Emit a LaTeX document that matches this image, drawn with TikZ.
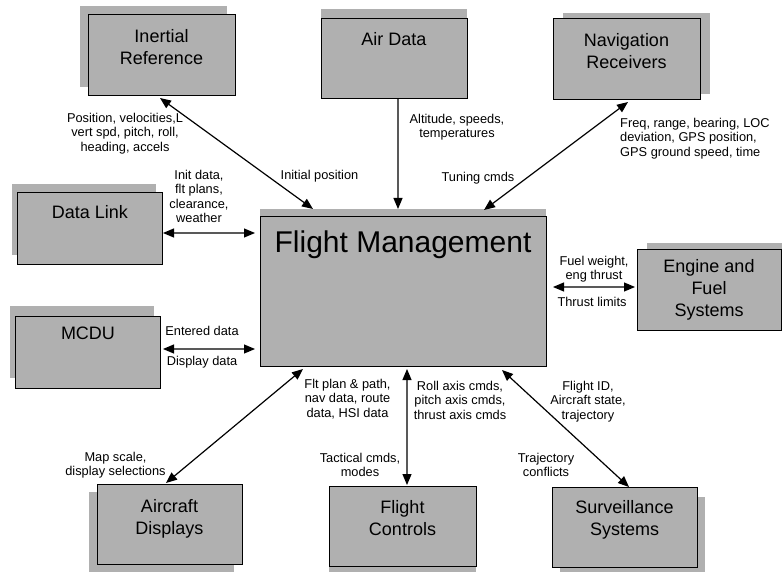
\documentclass[tikz,border=0pt]{standalone}
\usepackage{fontspec}
\setmainfont{Liberation Sans}
\usetikzlibrary{arrows.meta,shadows}
\definecolor{boxgray}{HTML}{B0B0B0}
\begin{document}
\begin{tikzpicture}[x=1bp,y=-1bp,
  box/.style={draw=black, line width=1bp, fill=boxgray, inner sep=0pt, outer sep=0pt},
  sh/.style 2 args={general shadow={shadow xshift=#1, shadow yshift=#2, fill=boxgray}},
  title/.style={font=\fontsize{18bp}{22bp}\selectfont, inner sep=0pt, align=center, anchor=north},
  lbl/.style={font=\fontsize{12.8bp}{14.6bp}\selectfont, inner sep=0pt, align=center},
  tip/.tip={Triangle[length=11bp,width=9bp]},
  conn/.style={line width=1.2bp, -tip},
  dbl/.style={line width=1.2bp, tip-tip}]
\useasboundingbox (0,0) rectangle (782,572);

% boxes
\node[box, minimum width=147bp, minimum height=81bp, sh={-8bp}{9bp}] (ir) at (161.5,55.5) {};
\node[box, minimum width=146bp, minimum height=80bp, sh={0bp}{10bp}] (ad) at (394,59) {};
\node[box, minimum width=147bp, minimum height=81bp, sh={10bp}{6bp}] (nr) at (626.5,59.5) {};
\node[box, minimum width=144bp, minimum height=71bp, sh={-6bp}{9bp}] (dl) at (90,228.5) {};
\node[box, minimum width=144bp, minimum height=72bp, sh={-6bp}{10bp}] (mc) at (88,352) {};
\node[box, minimum width=286bp, minimum height=149bp, sh={0bp}{8bp}] (fm) at (403,291.5) {};
\node[box, minimum width=144bp, minimum height=81bp, sh={10bp}{6bp}] (ef) at (709,289.5) {};
\node[box, minimum width=145bp, minimum height=80bp, sh={-8bp}{-8bp}] (acd) at (169.5,524) {};
\node[box, minimum width=147bp, minimum height=80bp, sh={0bp}{-8bp}] (fc) at (402.5,526) {};
\node[box, minimum width=145bp, minimum height=80bp, sh={8bp}{-10bp}] (ss) at (624.5,527) {};

% titles
\node[title] (irT) at ([yshift=-14bp]ir.north) {Inertial\\Reference};
\node[title] (adT) at ([yshift=-13bp]ad.north) {Air Data};
\node[title] (nrT) at ([yshift=-14bp]nr.north) {Navigation\\Receivers};
\node[title] (dlT) at ([yshift=-12bp]dl.north) {Data Link};
\node[title] (mcT) at ([yshift=-11bp]mc.north) {MCDU};
\node[font=\fontsize{30bp}{34bp}\selectfont, inner sep=0pt, anchor=north] (fmT) at ([yshift=-14bp]fm.north) {Flight Management};
\node[title] (efT) at ([yshift=-10bp]ef.north) {Engine and\\Fuel\\Systems};
\node[title] (acdT) at ([yshift=-15bp]acd.north) {Aircraft\\Displays};
\node[title] (fcT) at ([yshift=-14bp]fc.north) {Flight\\Controls};
\node[title] (ssT) at ([yshift=-13bp]ss.north) {Surveillance\\Systems};

% connectors
\draw[dbl] ([xshift=-1.5bp,yshift=-2bp]ir.south) -- ([xshift=-90bp,yshift=8bp]fm.north);
\draw[conn] ([xshift=4bp]ad.south) -- ([xshift=-5bp,yshift=8bp]fm.north);
\draw[dbl] ([xshift=1.5bp,yshift=-2bp]nr.south) -- ([xshift=81bp,yshift=7bp]fm.north);
\draw[dbl] ([xshift=1bp,yshift=-4.5bp]dl.east) -- ([xshift=-5bp,yshift=58.5bp]fm.west);
\draw[dbl] ([xshift=3bp,yshift=3bp]mc.east) -- ([xshift=-5bp,yshift=-57.5bp]fm.west);
\draw[dbl] ([xshift=7bp,yshift=4.5bp]fm.east) -- ([xshift=-2bp,yshift=2.5bp]ef.west);
\draw[dbl] ([xshift=-3.5bp,yshift=1bp]acd.north) -- ([xshift=-100bp,yshift=-3bp]fm.south);
\draw[dbl] ([xshift=4.5bp,yshift=1bp]fc.north) -- ([xshift=4bp,yshift=-3bp]fm.south);
\draw[dbl] ([xshift=4.5bp]ss.north) -- ([xshift=99bp,yshift=-4bp]fm.south);

% labels
\node[lbl, anchor=north] (l1) at (125,112.7) {Position, velocities,L\\vert spd, pitch, roll,\\heading, accels};
\node[lbl, anchor=north] (l2) at (199,169.7) {Init data,\\flt plans,\\clearance,\\weather};
\node[lbl, anchor=base] (l3) at (319.5,180) {Initial position};
\node[lbl, anchor=north] (l4) at (457,113.7) {Altitude, speeds,\\temperatures};
\node[lbl, anchor=north west, align=left] (l5) at (620,117.7) {Freq, range, bearing, LOC\\deviation, GPS position,\\GPS ground speed, time};
\node[lbl, anchor=base] (l6) at (478,182) {Tuning cmds};
\node[lbl, anchor=base] (l7) at (202,335) {Entered data};
\node[lbl, anchor=base] (l8) at (202,365) {Display data};
\node[lbl, anchor=north] (l9) at (594,255.7) {Fuel weight,\\eng thrust};
\node[lbl, anchor=base] (l10) at (592,306) {Thrust limits};
\node[lbl, anchor=north] (l11) at (347.5,378.7) {Flt plan \& path,\\nav data, route\\data, HSI data};
\node[lbl, anchor=north] (l12) at (115.5,451.7) {Map scale,\\display selections};
\node[lbl, anchor=north] (l13) at (360,452.7) {Tactical cmds,\\modes};
\node[lbl, anchor=north] (l14) at (460,380.7) {Roll axis cmds,\\pitch axis cmds,\\thrust axis cmds};
\node[lbl, anchor=north] (l15) at (588,380.7) {Flight ID,\\Aircraft state,\\trajectory};
\node[lbl, anchor=north] (l16) at (546,452.7) {Trajectory\\conflicts};
\end{tikzpicture}
\end{document}
